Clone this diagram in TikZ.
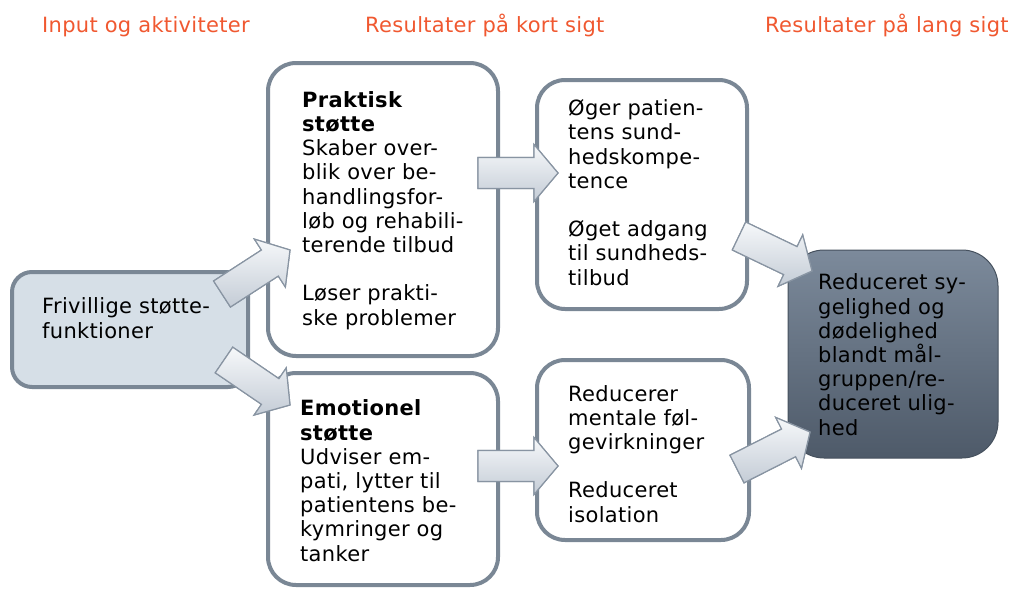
\documentclass[tikz,border=0pt]{standalone}
\usepackage{fontspec}
\setmainfont{DejaVu Sans}[LetterSpace=1.5]
\usetikzlibrary{calc}
\definecolor{boxline}{RGB}{122,135,149}
\definecolor{leftfill}{RGB}{214,223,231}
\definecolor{headcol}{RGB}{240,88,48}
\definecolor{arrtop}{RGB}{246,248,250}
\definecolor{arrbot}{RGB}{196,204,214}
\definecolor{arrline}{RGB}{136,148,162}
\definecolor{darktop}{RGB}{124,138,155}
\definecolor{darkbot}{RGB}{78,90,105}
\tikzset{
  wbox/.style={draw=boxline, line width=4pt, fill=white, rounded corners=28pt, inner sep=0},
  lbox/.style={draw=boxline, line width=4pt, fill=leftfill, rounded corners=20pt, inner sep=0},
  dbox/.style={draw=darkbot!90!black, line width=1pt, top color=darktop, bottom color=darkbot, rounded corners=36pt, inner sep=0},
  txt/.style={align=left, inner sep=0, text=black, font=\fontsize{21}{24.2}\selectfont},
  headtxt/.style={inner sep=0, text=headcol, font=\fontsize{21}{24}\selectfont},
  barrow/.style={draw=arrline, line width=1.2pt, top color=arrtop, bottom color=arrbot, line join=miter}
}
\newcommand{\blockarrow}[2]{%
  \coordinate (hb) at ($(#2)!24pt!(#1)$);
  \shade[barrow] ($(#1)!15.5pt!90:(#2)$) -- ($(hb)!15.5pt!-90:(#1)$) -- ($(hb)!28.5pt!-90:(#1)$) -- (#2)
     -- ($(hb)!28.5pt!90:(#1)$) -- ($(hb)!15.5pt!90:(#1)$) -- ($(#1)!15.5pt!-90:(#2)$) -- cycle;
  \draw[barrow, fill=none] ($(#1)!15.5pt!90:(#2)$) -- ($(hb)!15.5pt!-90:(#1)$) -- ($(hb)!28.5pt!-90:(#1)$) -- (#2)
     -- ($(hb)!28.5pt!90:(#1)$) -- ($(hb)!15.5pt!90:(#1)$) -- ($(#1)!15.5pt!-90:(#2)$) -- cycle;
}
\begin{document}
\begin{tikzpicture}[x=1pt,y=-1pt]
\useasboundingbox (0,0) rectangle (1020,589);
% headers
\node[headtxt, anchor=base west] (h1) at (42,32) {Input og aktiviteter};
\node[headtxt, anchor=base west] (h2) at (365,32) {Resultater på kort sigt};
\node[headtxt, anchor=base west] (h3) at (765,32) {Resultater på lang sigt};
% boxes
\node[lbox, minimum width=236pt, minimum height=115pt] (left) at (130,329.5) {};
\node[wbox, minimum width=230pt, minimum height=293pt] (prak) at (383,209.5) {};
\node[wbox, minimum width=230pt, minimum height=212pt] (emo) at (383,479) {};
\node[wbox, minimum width=210pt, minimum height=229pt] (oger) at (642,194.5) {};
\node[wbox, minimum width=212pt, minimum height=180pt] (redu) at (643,450) {};
\node[dbox, minimum width=210pt, minimum height=208pt] (dark) at (893,354) {};
% texts (anchor at baseline of last line)
\node[txt, anchor=base west] (tleft) at (42,338) {Frivillige støtte-\\funktioner};
\node[txt, anchor=base west] (tprak) at (302,325) {\textbf{Praktisk}\\\textbf{støtte}\\Skaber over-\\blik over be-\\handlingsfor-\\løb og rehabili-\\terende tilbud\\[24.2pt]Løser prakti-\\ske problemer};
\node[txt, anchor=base west] (temo) at (300,561) {\textbf{Emotionel}\\\textbf{støtte}\\Udviser em-\\pati, lytter til\\patientens be-\\kymringer og\\tanker};
\node[txt, anchor=base west] (toger) at (568,285) {Øger patien-\\tens sund-\\hedskompe-\\tence\\[24.2pt]Øget adgang\\til sundheds-\\tilbud};
\node[txt, anchor=base west] (tredu) at (568,522) {Reducerer\\mentale føl-\\gevirkninger\\[24.2pt]Reduceret\\isolation};
\node[txt, anchor=base west] (tdark) at (818,435) {Reduceret sy-\\gelighed og\\dødelighed\\blandt mål-\\gruppen/re-\\duceret ulig-\\hed};
% arrows
\coordinate (a1s) at (222,294); \coordinate (a1e) at (290,250);
\coordinate (a2s) at (224,360); \coordinate (a2e) at (290,405);
\coordinate (a3s) at (478,173); \coordinate (a3e) at (558,173);
\coordinate (a4s) at (478,466); \coordinate (a4e) at (558,466);
\coordinate (a5s) at (739,236); \coordinate (a5e) at (812,271);
\coordinate (a6s) at (737,469); \coordinate (a6e) at (810,432);
\blockarrow{a1s}{a1e}
\blockarrow{a2s}{a2e}
\blockarrow{a3s}{a3e}
\blockarrow{a4s}{a4e}
\blockarrow{a5s}{a5e}
\blockarrow{a6s}{a6e}
\end{tikzpicture}
\end{document}
